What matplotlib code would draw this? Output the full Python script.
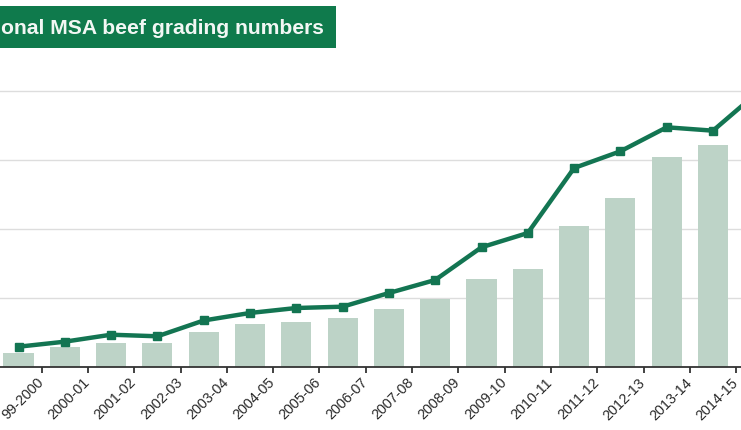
import matplotlib
matplotlib.use("Agg")
import matplotlib.pyplot as plt
from matplotlib.patches import Rectangle
from matplotlib.transforms import ScaledTranslation

seasons = ["99-2000", "2000-01", "2001-02", "2002-03", "2003-04", "2004-05",
           "2005-06", "2006-07", "2007-08", "2008-09", "2009-10", "2010-11",
           "2011-12", "2012-13", "2013-14", "2014-15", "2015-16"]
# bar values (grid units), last season bar lies outside the visible crop
bar_values = [0.203, 0.285, 0.348, 0.348, 0.512, 0.616, 0.648, 0.706, 0.841,
              0.990, 1.280, 1.416, 2.048, 2.445, 3.048, 3.213, 3.55]
line_values = [0.294, 0.367, 0.468, 0.445, 0.674, 0.783, 0.855, 0.874, 1.072,
               1.261, 1.735, 1.942, 2.884, 3.126, 3.474, 3.425, 4.00]
title = "onal MSA beef grading numbers"

W, H = 741, 431
fig = plt.figure(figsize=(W / 100, H / 100), dpi=100)
fig.patch.set_facecolor("white")

# axes: bottom at pixel 368, spans full width
bottom = (H - 368) / H
ax = fig.add_axes([0, bottom, 1, 1 - bottom])
unit_px = 46.3
c0 = 18.5
xl = -c0 / unit_px
xr = (W - c0) / unit_px
ax.set_xlim(xl, xr)
ax.set_ylim(0, 368 / 69.0)

x = list(range(len(seasons)))
ax.bar(x, bar_values, width=0.65, color="#bdd3c7", zorder=2)
ax.plot(x, line_values, color="#137552", lw=3.2, marker="s", markersize=5.5,
        zorder=3, solid_joinstyle="round")

ax.set_yticks([1, 2, 3, 4])
ax.yaxis.grid(True, color="#dddddd", lw=1.0, zorder=0)
ax.set_axisbelow(True)
ax.tick_params(axis="y", left=False, labelleft=False)

tick_pos = [i + 0.5 for i in range(len(seasons) - 1)]
ax.set_xticks(tick_pos)
ax.set_xticklabels(seasons[:-1], rotation=45, ha="right", rotation_mode="anchor",
                   va="center", fontsize=10.4, color="#2a2a2a",
                   family="Liberation Sans")
ax.tick_params(axis="x", direction="out", length=4, width=1.3, color="#333333",
               pad=5)
shift = ScaledTranslation(-0.5 / 100, 0, fig.dpi_scale_trans)
for lab in ax.get_xticklabels():
    lab.set_transform(lab.get_transform() + shift)
for s in ["top", "left", "right"]:
    ax.spines[s].set_visible(False)
ax.spines["bottom"].set_color("#333333")
ax.spines["bottom"].set_linewidth(1.3)

# title box
fig.patches.append(Rectangle((0, 1 - 49 / H), 336 / W, 42.5 / H,
                             transform=fig.transFigure, facecolor="#0f7a4c",
                             edgecolor="none", zorder=5))
fig.text(1 / W, 1 - 28.5 / H, title, ha="left", va="center", color="#f2f7f4",
         fontsize=15.2, fontweight="bold", family="Liberation Sans", zorder=6)

fig.savefig("out.png", dpi=100)
